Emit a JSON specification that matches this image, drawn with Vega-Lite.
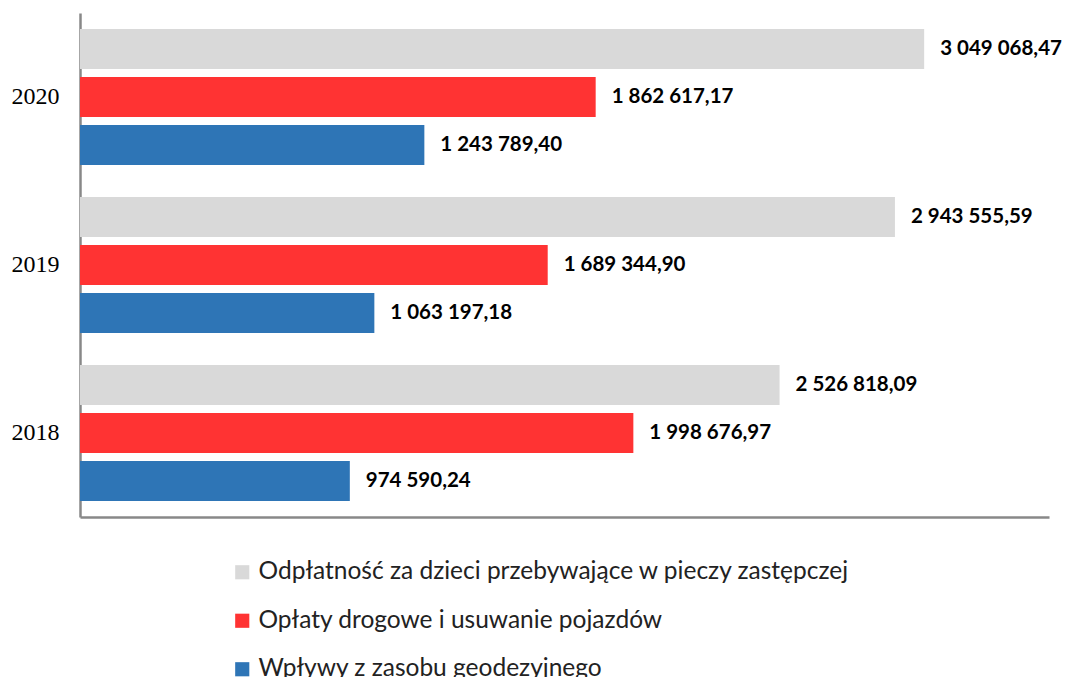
{
  "$schema": "https://vega.github.io/schema/vega-lite/v6.json",
  "width": 969,
  "height": 504,
  "autosize": {"type": "none"},
  "padding": {"left": 80, "top": 13, "right": 19, "bottom": 160},
  "background": "white",
  "config": {
    "view": {"stroke": null},
    "locale": {"number": {"decimal": ",", "thousands": " ", "grouping": [3], "currency": ["", ""]}}
  },
  "data": {
    "values": [
      {"rok": "2020", "kategoria": "Odpłatność za dzieci przebywające w pieczy zastępczej", "kwota": 3049068.47},
      {"rok": "2020", "kategoria": "Opłaty drogowe i usuwanie pojazdów", "kwota": 1862617.17},
      {"rok": "2020", "kategoria": "Wpływy z zasobu geodezyjnego", "kwota": 1243789.40},
      {"rok": "2019", "kategoria": "Odpłatność za dzieci przebywające w pieczy zastępczej", "kwota": 2943555.59},
      {"rok": "2019", "kategoria": "Opłaty drogowe i usuwanie pojazdów", "kwota": 1689344.90},
      {"rok": "2019", "kategoria": "Wpływy z zasobu geodezyjnego", "kwota": 1063197.18},
      {"rok": "2018", "kategoria": "Odpłatność za dzieci przebywające w pieczy zastępczej", "kwota": 2526818.09},
      {"rok": "2018", "kategoria": "Opłaty drogowe i usuwanie pojazdów", "kwota": 1998676.97},
      {"rok": "2018", "kategoria": "Wpływy z zasobu geodezyjnego", "kwota": 974590.24}
    ]
  },
  "encoding": {
    "y": {
      "field": "rok", "type": "nominal",
      "sort": ["2020", "2019", "2018"],
      "scale": {"paddingInner": 0, "paddingOuter": 0},
      "axis": {
        "title": null, "ticks": false, "labelFont": "Liberation Serif", "labelFontSize": 24,
        "labelColor": "#000000", "labelPadding": 21, "domainColor": "#888888", "domainWidth": 2.5, "grid": false
      }
    },
    "yOffset": {
      "field": "kategoria", "type": "nominal",
      "sort": ["Odpłatność za dzieci przebywające w pieczy zastępczej", "Opłaty drogowe i usuwanie pojazdów", "Wpływy z zasobu geodezyjnego"],
      "scale": {"paddingInner": 0.1667, "paddingOuter": 0.3333}
    },
    "x": {
      "field": "kwota", "type": "quantitative",
      "scale": {"domain": [0, 3500000], "nice": false},
      "axis": {"title": null, "ticks": false, "labels": false, "grid": false, "domainColor": "#888888", "domainWidth": 2.5}
    }
  },
  "layer": [
    {
      "mark": {"type": "bar"},
      "encoding": {
        "color": {
          "field": "kategoria", "type": "nominal",
          "sort": ["Odpłatność za dzieci przebywające w pieczy zastępczej", "Opłaty drogowe i usuwanie pojazdów", "Wpływy z zasobu geodezyjnego"],
          "scale": {
            "domain": ["Odpłatność za dzieci przebywające w pieczy zastępczej", "Opłaty drogowe i usuwanie pojazdów", "Wpływy z zasobu geodezyjnego"],
            "range": ["#d9d9d9", "#ff3333", "#2e75b6"]
          },
          "legend": {
            "title": null, "orient": "none", "direction": "vertical",
            "legendX": 150, "legendY": 547,
            "symbolType": "square", "symbolSize": 200, "symbolStrokeWidth": 0,
            "labelFont": "Lato", "labelFontSize": 24.5, "labelColor": "#222222",
            "rowPadding": 23.5, "labelOffset": 4, "labelLimit": 800
          }
        }
      }
    },
    {
      "mark": {"type": "text", "align": "left", "baseline": "middle", "dx": 16, "font": "Lato", "fontWeight": "bold", "fontSize": 20.5, "color": "#000000"},
      "encoding": {
        "text": {"field": "kwota", "type": "quantitative", "format": ",.2f"}
      }
    }
  ]
}
